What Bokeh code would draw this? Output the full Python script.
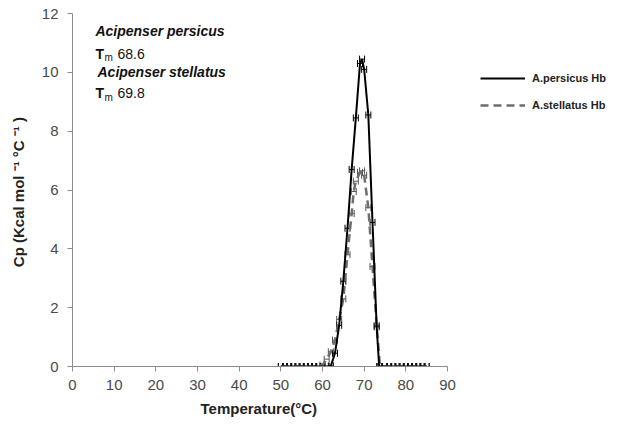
from bokeh.plotting import figure
from bokeh.models import (Range1d, Whisker, TeeHead, ColumnDataSource, Legend,
                          LegendItem, Label, FixedTicker, Title)
from bokeh.embed import file_html
from bokeh.resources import INLINE

# ---- data ----
persicus_t = [50, 51, 52, 53, 54, 55, 56, 57, 58, 59, 60, 61, 62, 63, 64, 65, 66,
              67, 68, 69, 69.5, 70, 71, 72, 73, 73.6, 75, 76, 77, 78, 79, 80, 81,
              82, 83, 84, 85]
persicus_cp = [0, 0, 0, 0, 0, 0, 0, 0, 0, 0, 0, 0, 0.02, 0.45, 1.4, 2.9, 4.7,
               6.7, 8.45, 10.3, 10.45, 10.1, 8.55, 4.9, 1.35, 0, 0, 0, 0, 0, 0,
               0, 0, 0, 0, 0, 0]
stellatus_t = [50, 51, 52, 53, 54, 55, 56, 57, 58, 59, 60, 61, 62, 63, 64, 65,
               66, 67, 67.5, 68, 69, 69.5, 70, 71, 72, 73, 73.8, 75, 76, 77, 78,
               79, 80, 81, 82, 83, 84, 85]
stellatus_cp = [0, 0, 0, 0, 0, 0, 0, 0, 0, 0, 0.05, 0.25, 0.5, 0.9, 1.6, 2.3,
                3.8, 5.2, 5.95, 6.3, 6.6, 6.65, 6.5, 5.4, 3.4, 1.4, 0, 0, 0, 0,
                0, 0, 0, 0, 0, 0, 0, 0]
t_err = 0.6
x_ticks = [0, 10, 20, 30, 40, 50, 60, 70, 80, 90]
y_ticks = [0, 2, 4, 6, 8, 10, 12]
series_names = ["A.persicus Hb", "A.stellatus Hb"]
tm_values = ["68.6", "69.8"]
species = ["Acipenser persicus", "Acipenser stellatus"]

X_MAX_AXIS = 90
px_per_unit = 375 / X_MAX_AXIS
x_end = 552 / px_per_unit  # frame extends to the right edge; axis stops at 90

p = figure(width=624, height=428, output_backend="svg", toolbar_location=None,
           x_range=Range1d(0, x_end), y_range=Range1d(0, 12),
           min_border_left=72, min_border_right=0, min_border_top=13,
           min_border_bottom=62)
p.outline_line_color = None
p.grid.visible = False
p.background_fill_color = "white"

FONT = "Liberation Sans"
for ax in (p.xaxis, p.yaxis):
    ax.axis_line_color = "#8c8c8c"
    ax.major_tick_line_color = "#8c8c8c"
    ax.minor_tick_line_color = None
    ax.major_tick_in = 0
    ax.major_tick_out = 5
    ax.major_label_text_font = FONT
    ax.major_label_text_font_size = "15px"
    ax.major_label_text_color = "#4a4a4a"
    ax.axis_label_text_font = FONT
    ax.axis_label_text_font_style = "bold"
    ax.axis_label_text_color = "#222222"

p.xaxis.bounds = (0, X_MAX_AXIS)
p.xaxis.ticker = FixedTicker(ticks=x_ticks)
p.yaxis.ticker = FixedTicker(ticks=y_ticks)
p.xaxis.major_label_standoff = 8
p.yaxis.axis_label = "Cp  (Kcal mol \u207b\u00b9 \u00b0C \u207b\u00b9 )"
p.yaxis.axis_label_text_font_size = "15px"
p.yaxis.major_label_standoff = 9
p.yaxis.axis_label_standoff = 12

p.add_layout(Title(text="Temperature(\u00b0C)", align="left", offset=128,
                   text_font=FONT, text_font_style="bold",
                   text_font_size="15px", text_color="#222222",
                   standoff=10), "below")

src_p = ColumnDataSource(dict(t=persicus_t, cp=persicus_cp,
                              lo=[v - t_err for v in persicus_t],
                              hi=[v + t_err for v in persicus_t]))
src_s = ColumnDataSource(dict(t=stellatus_t, cp=stellatus_cp,
                              lo=[v - t_err for v in stellatus_t],
                              hi=[v + t_err for v in stellatus_t]))

r_s = p.line("t", "cp", source=src_s, line_color="#6e6e6e", line_width=2.5,
             line_dash="8 5")
r_p = p.line("t", "cp", source=src_p, line_color="black", line_width=2)

for src, col in ((src_s, "#555555"), (src_p, "black")):
    w = Whisker(source=src, base="cp", lower="lo", upper="hi", dimension="width",
                line_color=col, line_width=1,
                lower_head=TeeHead(size=7, line_color=col, line_width=1),
                upper_head=TeeHead(size=7, line_color=col, line_width=1))
    p.add_layout(w)

legend = Legend(items=[LegendItem(label=series_names[0], renderers=[r_p]),
                       LegendItem(label=series_names[1], renderers=[r_s])],
                location=(408, 251), orientation="vertical",
                border_line_color=None, background_fill_alpha=0,
                padding=0, margin=0, spacing=7, glyph_width=45, glyph_height=20,
                label_height=20, label_standoff=7,
                label_text_font=FONT, label_text_font_style="bold",
                label_text_font_size="11px", label_text_color="#222222")
p.add_layout(legend, "center")

# annotations
ys_species = [11.42, 10.0]
ys_tm = [10.64, 9.3]
xs_species = [5.5, 6.0]
for i in range(2):
    p.add_layout(Label(x=xs_species[i], y=ys_species[i], text=species[i],
                       text_font=FONT, text_font_style="bold italic",
                       text_font_size="14px", text_baseline="middle",
                       text_color="#111111"))
    p.add_layout(Label(x=5.5, y=ys_tm[i], text="T", text_font=FONT,
                       text_font_style="bold", text_font_size="14px",
                       text_baseline="middle", text_color="#111111"))
    p.add_layout(Label(x=7.7, y=ys_tm[i] - 0.15, text="m", text_font=FONT,
                       text_font_size="10px", text_baseline="middle",
                       text_color="#111111"))
    p.add_layout(Label(x=10.8, y=ys_tm[i], text=tm_values[i], text_font=FONT,
                       text_font_size="14px", text_baseline="middle",
                       text_color="#111111"))

open("out.html", "w").write(file_html(p, INLINE))
